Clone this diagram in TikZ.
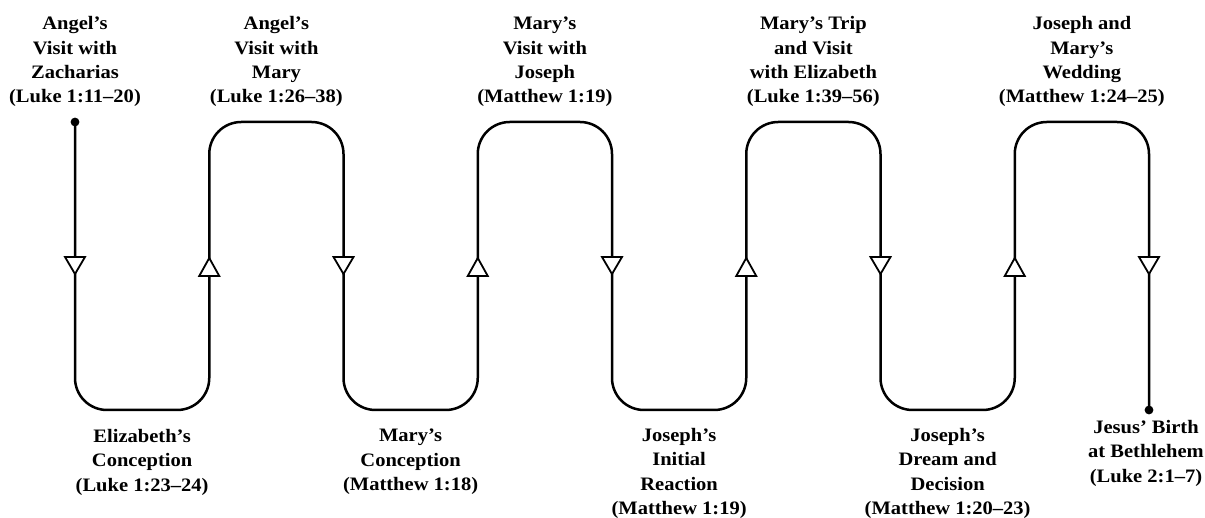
\documentclass[tikz,border=0pt]{standalone}
\usepackage{fontspec}
\setmainfont{Liberation Serif}[FakeStretch=1.08]
\usetikzlibrary{positioning, calc}

\tikzset{
  event/.style={align=center, inner sep=0pt, font=\bfseries\fontsize{19}{24.3}\selectfont},
  tri/.style={draw, fill=white, line width=1.8pt, line join=miter}
}

\begin{document}
\begin{tikzpicture}[x=1pt, y=-1pt, line width=2.5pt]
		\useasboundingbox (0,0) rectangle (1205,518);
		% columns of the serpentine
		\foreach \i in {0,...,8} {
			\coordinate (top\i) at ({75+134.25*\i}, 122);
			\coordinate (bot\i) at ({75+134.25*\i}, 410);
		}
		\draw[rounded corners=32pt] (top0) -- (bot0) -- (bot1) -- (top1) -- (top2) -- (bot2) -- (bot3) -- (top3)
			-- (top4) -- (bot4) -- (bot5) -- (top5) -- (top6) -- (bot6) -- (bot7) -- (top7) -- (top8) -- (bot8);
		\fill (top0) circle (4.4pt);
		\fill (bot8) circle (4.4pt);
		
		% direction marks
		\foreach \i in {0,2,4,6,8}
			\draw[tri] ([xshift=-10pt]top\i |- 0,257) -- ([xshift=10pt]top\i |- 0,257) -- (top\i |- 0,274) -- cycle;
		\foreach \i in {1,3,5,7}
			\draw[tri] ([xshift=-10pt]top\i |- 0,276) -- ([xshift=10pt]top\i |- 0,276) -- (top\i |- 0,258) -- cycle;
		
		% events above
		\node[event, anchor=south] (zach) at ($(top0)+(0,-14)$) {Angel’s\\Visit with\\Zacharias\\(Luke 1:11–20)};
		\node[event, anchor=south] (annun) at ($(top1)!.5!(top2)+(0,-14)$) {Angel’s\\Visit with\\Mary\\(Luke 1:26–38)};
		\node[event, anchor=south] (joseph) at ($(top3)!.5!(top4)+(0,-14)$) {Mary’s\\Visit with\\Joseph\\(Matthew 1:19)};
		\node[event, anchor=south] (trip) at ($(top5)!.5!(top6)+(0,-14)$) {Mary’s Trip\\and Visit\\with Elizabeth\\(Luke 1:39–56)};
		\node[event, anchor=south] (wedding) at ($(top7)!.5!(top8)+(0,-14)$) {Joseph and\\Mary’s\\Wedding\\(Matthew 1:24–25)};
		
		% events below
		\node[event, anchor=north] (eliz) at ($(bot0)!.5!(bot1)+(0,18)$) {Elizabeth’s\\Conception\\(Luke 1:23–24)};
		\node[event, anchor=north] (conc) at ($(bot2)!.5!(bot3)+(0,18)$) {Mary’s\\Conception\\(Matthew 1:18)};
		\node[event, anchor=north] (react) at ($(bot4)!.5!(bot5)+(0,17)$) {Joseph’s\\Initial\\Reaction\\(Matthew 1:19)};
		\node[event, anchor=north] (dream) at ($(bot6)!.5!(bot7)+(0,17)$) {Joseph’s\\Dream and\\Decision\\(Matthew 1:20–23)};
		\node[event, anchor=north] (birth) at ($(bot8)+(-3,9)$) {Jesus’ Birth\\at Bethlehem\\(Luke 2:1–7)};
		
	\end{tikzpicture}
\end{document}
